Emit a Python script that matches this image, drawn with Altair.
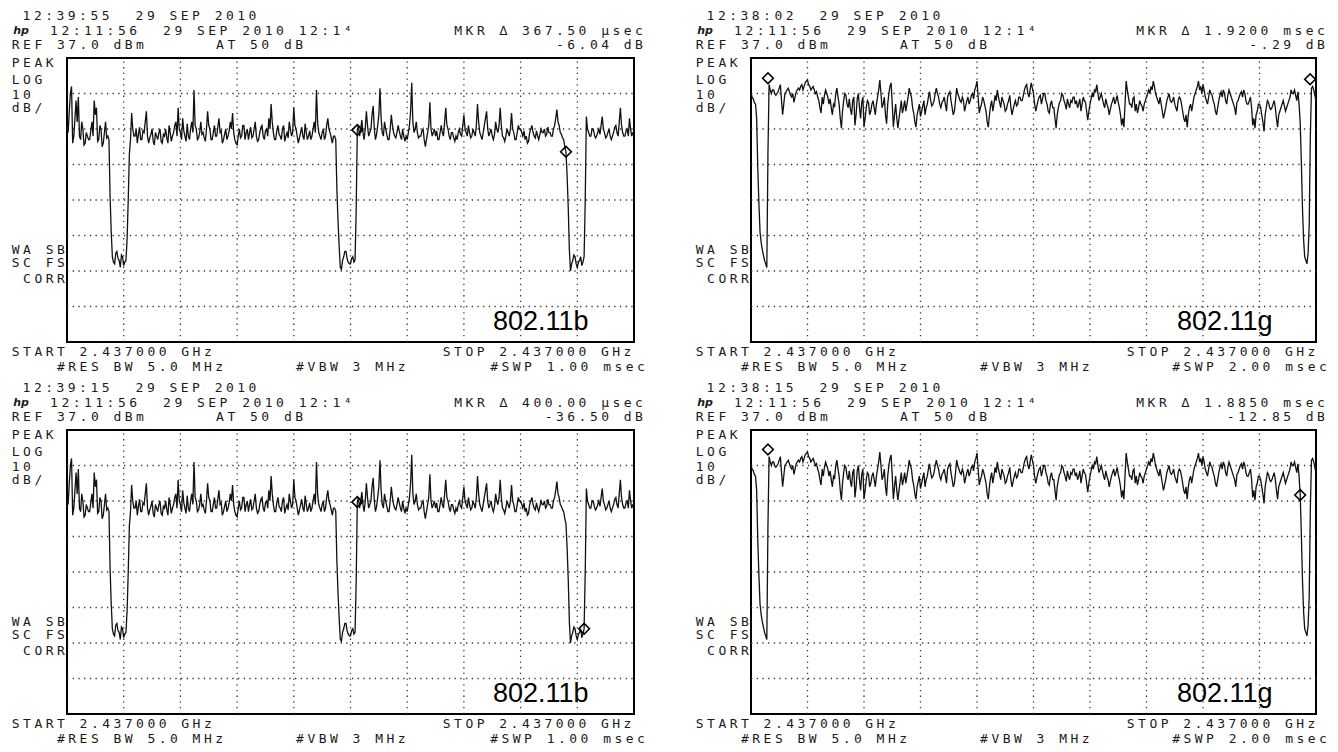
import altair as alt
import pandas as pd

# ------------------------------------------------------------------ data
# 802.11b trace, 1 ms sweep, one reading every 2 us (dBm)
B_TRACE_DBM = [
    18, 16, 22, 27, 29, 13, 15, 20, 25, 19, 26, 15, 14, 19, 17, 12.5, 13, 16, 15, 14,
    14, 16.5, 19, 15, 25, 21, 23, 13.5, 14, 18, 17, 12, 13, 16, 19, 14.5, 15, 14, -2, -12,
    -19, -20.5, -21, -18, -17.5, -19.5, -20, -22, -18.5, -19, -21.5, -20.5, -20, -14, -3, 10, 14, 21.5, 17, 15,
    15, 17, 13, 15.5, 17.5, 14, 14, 16.5, 16, 19, 22, 15, 13, 14.5, 15.5, 17, 13.5, 12.5, 16, 15,
    14, 16, 17, 13.5, 13, 15.5, 15, 17, 14.5, 13, 18, 16, 13.5, 15, 16, 18, 19, 15, 23, 17,
    16, 14, 20, 16.5, 15, 13.5, 18.5, 15, 14, 17, 19, 16, 28, 18, 17, 14, 14.5, 16, 19, 15.5,
    16, 14.5, 13.5, 17, 22, 18, 17, 14, 14, 16, 18, 15, 15, 17.5, 20, 16, 16.5, 13, 14, 15.5,
    17, 14, 15, 16.5, 19, 17, 21.5, 16, 14, 13, 12.5, 15, 17, 14.5, 15, 18, 18, 14, 16, 17,
    14, 16, 17.5, 14.5, 15, 17, 19, 15, 13.5, 14, 16, 17.5, 18, 15, 14, 16.5, 17, 15, 20, 17,
    24, 19, 16, 14, 14, 16.5, 18, 15.5, 15, 14, 17, 18, 13.5, 15, 16, 14.5, 19, 17, 15, 16,
    23, 18, 17, 15, 13, 14.5, 16, 17.5, 15, 14, 18.5, 16, 14, 15, 16.5, 14, 15, 17, 19, 16,
    28, 19, 16, 15, 14, 16, 17, 14, 15, 18, 20, 17, 16, 14.5, 13, 15, 15, 14, 0, -9,
    -16, -22, -22.5, -20, -19, -17.5, -17.5, -19.5, -20.5, -21, -21, -19.5, -19, -20.5, -20, -6, 16.7, 18, 15, 17,
    19.5, 16, 14, 17, 22, 18, 15, 16, 17, 21, 23.5, 17, 14, 15.5, 18, 21, 28.5, 20, 16, 15,
    19, 17, 15.5, 14, 14, 17, 21, 18, 16, 15, 14.5, 16, 18, 16.5, 15, 14, 17, 15, 13.5, 15,
    14, 16, 18, 22, 30, 19, 16, 17, 19, 16, 14.5, 15, 15, 16.5, 17, 14, 12, 14, 16, 18,
    24.5, 17, 15, 16, 17, 15, 16.5, 14, 14, 16, 18, 16, 15, 19, 23, 18, 17, 15, 14, 16,
    16, 14.5, 13.5, 15, 14, 16, 17, 15.5, 15, 18, 21, 17, 16, 15, 18, 16, 14.5, 15, 17, 16,
    15, 18, 24, 19, 16, 15, 14, 16, 18, 20, 22, 17, 15, 16, 17, 15, 14, 15.5, 19, 17,
    16, 18, 23, 18, 15, 14.5, 13.5, 15, 17, 16, 15, 17, 21.5, 17, 16, 14, 14, 16, 18, 17,
    17, 16, 15, 16.5, 14, 15, 13, 13.5, 16, 17, 18, 16, 15, 14.5, 16.5, 15, 14, 15.5, 17, 16,
    16, 17, 15, 15.5, 17.5, 16, 16, 15, 15, 17, 18, 20, 22.5, 19, 18, 16, 15.5, 14.5, 14, 12,
    10.6, 4, -5, -17, -23, -21, -20, -18.5, -19, -21, -22, -20.5, -20, -19, -21.5, -20.5, -19, -3, 20.5, 17,
    16, 15, 15, 17, 17, 15.5, 14.5, 15, 16, 17, 15.5, 18, 20.5, 17, 16, 14.5, 15, 16, 17, 15,
    14, 15, 16, 17.5, 18, 16, 15, 19, 23, 18, 16, 15, 15, 16.5, 17, 15, 20, 17, 15, 16,
    16,
]

# 802.11g trace, 2 ms sweep, one reading every 4 us (dBm)
G_TRACE_DBM = [
    27, 26, 25.5, 24.5, 24, 20, 6, -4, -12, -15, -17, -18.5, -20, -21, -22, 10, 29.5, 28, 27, 28,
    28, 27, 26.5, 27, 27.5, 28.5, 29.5, 25, 21, 24, 27, 27.5, 28, 28.5, 27.5, 26.5, 26, 27, 24.5, 26,
    27.5, 28, 28.5, 28, 29, 29.5, 28, 29, 30, 30.5, 30.8, 29.5, 29, 28, 28.5, 29, 28, 27, 27.5, 26,
    25, 23, 21.5, 26, 24, 26.5, 28, 27, 26, 24, 25.5, 23, 21, 24, 23.5, 27, 28.5, 26, 24, 20,
    17.2, 22, 25, 27, 26.5, 24, 23, 25.5, 22.5, 21, 25, 26, 18, 21, 25.5, 27, 23, 20, 24.5, 26,
    17.5, 20, 23, 25, 24.5, 21, 22, 24, 25, 23, 21, 24, 26, 28, 30.8, 27, 23, 24, 26, 21,
    18.5, 24, 27, 29, 30, 24, 17.5, 21, 24, 20, 17.2, 20, 22.5, 25, 21.5, 23, 25, 22, 24, 26,
    28.5, 27, 26, 23, 21.5, 19, 17.5, 21, 22.5, 24, 20.5, 22, 23.5, 25, 21, 23, 24, 26, 27.5, 25,
    23.5, 24, 25, 27, 28.5, 27, 26, 24, 23, 24.5, 25, 26, 24, 22, 26, 27, 27.5, 25, 23, 21,
    22, 25, 28.5, 27, 26, 25, 24.5, 26, 25, 22, 23.5, 25, 26, 24, 25, 26.5, 27, 25.5, 28, 29,
    30.5, 26, 21.5, 23, 24, 26, 25, 23.5, 22, 19, 17.5, 21, 23.5, 25, 22, 24, 26.5, 25, 28, 26,
    24.5, 23, 26, 25, 24, 22, 22.5, 24, 25, 26.5, 23, 21, 22.5, 24, 25, 23.5, 24, 26, 26, 25,
    25, 26.5, 28, 29, 29.5, 27, 26, 28, 30, 28.5, 27, 24, 22, 23.5, 25, 26, 26.5, 24, 25.5, 27,
    27, 25, 24, 22, 21.5, 24, 25, 23, 23, 20, 17.2, 21, 23, 24.5, 25, 27, 26.5, 25, 24, 22.5,
    25.5, 24, 23, 25, 24.5, 26, 26, 24, 25, 23, 24, 25.5, 22, 24, 26, 25, 24.5, 22, 19.5, 22,
    24, 25.5, 27, 26, 28, 27.5, 29.5, 27, 25, 26, 27, 25.5, 24, 23, 25.5, 24, 23, 21, 22.5, 24,
    25, 26, 24, 25, 26.5, 24.5, 23, 21, 18, 20, 17.5, 24, 30.5, 28, 26, 24, 24, 23, 25.5, 26,
    22, 24, 21.5, 23, 25, 24, 23.5, 22, 24, 25, 26, 27, 28, 27, 29, 28, 30.5, 29, 27, 26,
    25, 24, 26, 24, 22, 20, 21.5, 23, 25, 26, 27, 25, 24.5, 25, 26, 24, 23, 22, 25, 26,
    25.5, 24, 22, 20, 19, 21, 17.5, 21, 23, 24, 22, 24, 26, 27, 28, 29, 30.5, 28, 29, 27,
    29.5, 28, 26, 25, 24, 26, 28, 27, 26.5, 25, 24, 22, 21, 23, 25, 26.5, 27.5, 26, 28, 27,
    25, 24, 26.5, 28, 27, 26, 25, 24, 23, 21, 24.5, 25, 26, 27, 27.5, 26, 28, 27, 25, 24,
    24, 25, 26, 23, 18, 20, 17.2, 21, 22, 24, 24, 23, 21, 19, 16.3, 21, 23, 25, 24.5, 23,
    22.5, 23, 24, 25, 23, 20, 17.5, 21, 22, 23, 24, 25, 23.5, 22, 23, 24, 25, 26, 28, 27,
    27, 28, 26.5, 25, 27.5, 24, 19, 8, -5, -14, -19, -20, -21, -18, -10, 15, 28.5, 29, 28, 26.5,
    25,
]

PANEL_TRACE = ["b", "g", "b", "g"]
PANEL_STD = ["802.11b", "802.11g", "802.11b", "802.11g"]
PANEL_SWEEP_US = [1000, 2000, 1000, 2000]
PANEL_CLOCK = ["12:39:55  29 SEP 2010", "12:38:02  29 SEP 2010",
               "12:39:15  29 SEP 2010", "12:38:15  29 SEP 2010"]
PANEL_MKR = ["MKR ∆ 367.50 μsec", "MKR ∆ 1.9200 msec",
             "MKR ∆ 400.00 μsec", "MKR ∆ 1.8850 msec"]
PANEL_MKR_DB = ["-6.04 dB", "-.29 dB", "-36.50 dB", "-12.85 dB"]
PANEL_SWP = ["#SWP 1.00 msec", "#SWP 2.00 msec", "#SWP 1.00 msec", "#SWP 2.00 msec"]
MARKER_T_US = [[512, 880], [60, 1979], [512, 912], [60, 1944]]
MARKER_DBM = [[16.7, 10.6], [31.3, 31.0], [16.7, -19.0], [31.5, 18.7]]

REF_DBM = 37.0
DB_PER_DIV = 10
N_YDIV = 8
N_XDIV = 10

LINE_DATE = "12:11:56  29 SEP 2010 12:1⁴"
LINE_REF = "REF 37.0 dBm"
LINE_AT = "AT 50 dB"
LEFT_WORDS = ["PEAK", "LOG", "10", "dB/"]
LEFT_WORDS2 = ["WA SB", "SC FS", " CORR"]
LINE_START = "START 2.437000 GHz"
LINE_RES = "    #RES BW 5.0 MHz"
LINE_VBW = "#VBW 3 MHz"
LINE_STOP = "STOP 2.437000 GHz"

# ------------------------------------------------------------------ layout
MONO = "DejaVu Sans Mono"
PITCH = 11.3
FS = 13
INK = "#1a1a1a"
COL_W = [684, 638]
ROW_H = [372, 364]
BOX_L = 59
BOX_R = [626, 624]
BOX_T = 50
BOX_B = 334
RIGHT_ANCHOR = [631, 629]


def chars(text, x_first, y, right=False):
    if right:
        x_first = x_first - (len(text) - 1) * PITCH
    return [{"ch": c, "px": round(x_first + i * PITCH, 2), "py": y}
            for i, c in enumerate(text) if c != " "]


def panel(k):
    col, row = k % 2, k // 2
    W, H = COL_W[col], ROW_H[row]
    S = PANEL_SWEEP_US[k]
    box_w = BOX_R[col] - BOX_L
    x_lo = -BOX_L / box_w * S
    x_hi = (W - BOX_L) / box_w * S
    top_db = REF_DBM
    bot_db = REF_DBM - DB_PER_DIV * N_YDIV
    ppd = (BOX_B - BOX_T) / (top_db - bot_db)
    y_hi = top_db + BOX_T / ppd
    y_lo = bot_db - (H - BOX_B) / ppd
    xs = alt.Scale(domain=[x_lo, x_hi], nice=False, zero=False)
    ys = alt.Scale(domain=[y_lo, y_hi], nice=False, zero=False)

    vals = B_TRACE_DBM if PANEL_TRACE[k] == "b" else G_TRACE_DBM
    n = len(vals)
    df_trace = pd.DataFrame({"t": [i * S / (n - 1) for i in range(n)], "dbm": vals})

    df_box = pd.DataFrame({"x0": [0], "x1": [S], "y0": [bot_db], "y1": [top_db]})
    df_vg = pd.DataFrame({"t": [S * i / N_XDIV for i in range(1, N_XDIV)],
                          "lo": bot_db, "hi": top_db})
    df_hg = pd.DataFrame({"d": [top_db - DB_PER_DIV * j for j in range(1, N_YDIV)],
                          "lo": 0, "hi": S})
    df_mk = pd.DataFrame({"t": MARKER_T_US[k], "dbm": MARKER_DBM[k]})

    ra = RIGHT_ANCHOR[col]
    rows = []
    rows += chars(PANEL_CLOCK[k], 18.5, 8.3)
    rows += chars(LINE_DATE, 46, 23.3)
    rows += chars(LINE_REF, 7.7, 36.7)
    rows += chars(LINE_AT, 212, 36.7)
    rows += chars(PANEL_MKR[k], ra, 23, right=True)
    rows += chars(PANEL_MKR_DB[k], ra, 36.5, right=True)
    for w, yy in zip(LEFT_WORDS, [55, 71.5, 87, 99.5]):
        rows += chars(w, 7.7, yy)
    for w, yy in zip(LEFT_WORDS2, [242.4, 254.8, 270.8]):
        rows += chars(w, 7.7, yy)
    rows += chars(LINE_START, 7.7, 344.3)
    rows += chars(LINE_RES, 7.7, 359)
    rows += chars(LINE_VBW, 292, 359)
    rows += chars(LINE_STOP, 438.7, 344.3)
    rows += chars(PANEL_SWP[k], ra + 2, 359, right=True)
    df_chars = pd.DataFrame(rows)

    box = alt.Chart(df_box).mark_rect(fill="white", fillOpacity=0, stroke="black",
                                      strokeWidth=2).encode(
        x=alt.X("x0:Q", scale=xs, axis=None), x2="x1:Q",
        y=alt.Y("y0:Q", scale=ys, axis=None), y2="y1:Q")
    vgrid = alt.Chart(df_vg).mark_rule(color="#333", strokeWidth=1.3,
                                       strokeDash=[1.3, 4.4]).encode(
        x=alt.X("t:Q", scale=xs, axis=None),
        y=alt.Y("lo:Q", scale=ys, axis=None), y2="hi:Q")
    hgrid = alt.Chart(df_hg).mark_rule(color="#333", strokeWidth=1.3,
                                       strokeDash=[1.3, 4.4]).encode(
        y=alt.Y("d:Q", scale=ys, axis=None),
        x=alt.X("lo:Q", scale=xs, axis=None), x2="hi:Q")
    line = alt.Chart(df_trace).mark_line(color="#111", strokeWidth=1.3).encode(
        x=alt.X("t:Q", scale=xs, axis=None),
        y=alt.Y("dbm:Q", scale=ys, axis=None))
    marks = alt.Chart(df_mk).mark_point(shape="diamond", size=115, filled=False,
                                        color="black", strokeWidth=1.6, opacity=1).encode(
        x=alt.X("t:Q", scale=xs, axis=None),
        y=alt.Y("dbm:Q", scale=ys, axis=None))
    txt = alt.Chart(df_chars).mark_text(font=MONO, fontSize=FS, color=INK,
                                        align="center", baseline="middle").encode(
        x=alt.X("px:Q", scale=None, axis=None),
        y=alt.Y("py:Q", scale=None, axis=None),
        text="ch:N")
    logo = alt.Chart(pd.DataFrame({"s": ["hp"]})).mark_text(
        font="DejaVu Sans", fontStyle="italic", fontWeight="bold", fontSize=11,
        color=INK, align="center", baseline="middle").encode(
        x=alt.value(13), y=alt.value(23.3), text="s:N")
    std = alt.Chart(pd.DataFrame({"s": [PANEL_STD[k]]})).mark_text(
        font="Liberation Sans", fontSize=27, color="black", align="left",
        baseline="alphabetic").encode(
        x=alt.value(485), y=alt.value(322), text="s:N")

    return alt.layer(box, vgrid, hgrid, line, marks, txt, logo, std).properties(
        width=W, height=H)


top = alt.hconcat(panel(0), panel(1), spacing=0)
bottom = alt.hconcat(panel(2), panel(3), spacing=0)
chart = alt.vconcat(top, bottom, spacing=0).properties(
    padding=0, background="white"
).configure_view(stroke=None)

chart.save("out.html", embed_options={"renderer": "svg", "actions": False})
